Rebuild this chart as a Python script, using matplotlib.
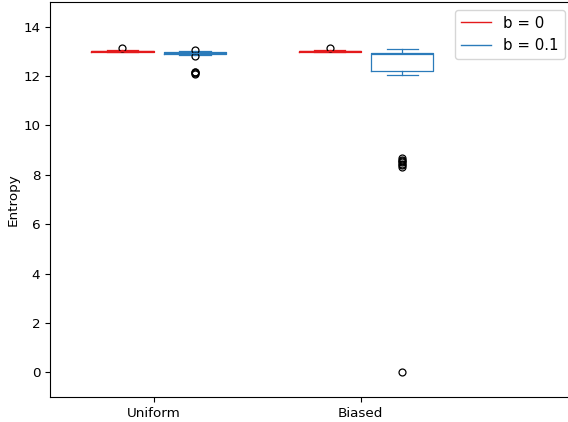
import matplotlib
matplotlib.use("Agg")
import matplotlib.pyplot as plt
from matplotlib.lines import Line2D

# categories and per-group box statistics
labels = ["Uniform", "Biased"]

# b = 0
b0_med = [13.00, 13.00]
b0_q1 = [12.99, 12.99]
b0_q3 = [13.02, 13.02]
b0_lo = [12.96, 12.96]
b0_hi = [13.05, 13.05]
b0_fliers = [[13.12], [13.12]]

# b = 0.1
b1_med = [12.93, 12.90]
b1_q1 = [12.89, 12.20]
b1_q3 = [12.97, 12.93]
b1_lo = [12.87, 12.05]
b1_hi = [13.00, 13.10]
b1_fliers = [[13.06, 12.83, 12.18, 12.15, 12.12, 12.10],
             [8.69, 8.62, 8.56, 8.50, 8.45, 8.40, 8.33, 0.0]]

red = "#e41a1c"
blue = "#2b7bba"


def make_stats(med, q1, q3, lo, hi, fliers):
    stats = []
    for i in range(len(med)):
        stats.append({"med": med[i], "q1": q1[i], "q3": q3[i],
                      "whislo": lo[i], "whishi": hi[i], "fliers": fliers[i]})
    return stats


fig = plt.figure(figsize=(5.68, 4.22), dpi=100)
ax = fig.add_axes([50 / 568, 25 / 422, 522 / 568, 395 / 422])

pos = list(range(len(labels)))

for stats, off, col in [(make_stats(b0_med, b0_q1, b0_q3, b0_lo, b0_hi, b0_fliers), -0.15, red),
                        (make_stats(b1_med, b1_q1, b1_q3, b1_lo, b1_hi, b1_fliers), 0.2, blue)]:
    ax.bxp(stats, positions=[p + off for p in pos], widths=0.3,
           boxprops=dict(color=col, linewidth=0.9),
           whiskerprops=dict(color=col, linewidth=0.9),
           capprops=dict(color=col, linewidth=0.9),
           medianprops=dict(color=col, linewidth=0.9),
           flierprops=dict(marker="o", markersize=5, markerfacecolor="none",
                           markeredgecolor="black", markeredgewidth=0.9))

ax.set_xticks(pos)
ax.set_xticklabels(labels)
ax.set_xlim(-0.5, 2.02)
ax.set_ylim(-1, 15)
ax.set_yticks(range(0, 15, 2))
ax.tick_params(axis="both", labelsize=9.7)
ax.set_ylabel("Entropy", fontsize=9.7, labelpad=2.5)

handles = [Line2D([], [], color=red, linewidth=1),
           Line2D([], [], color=blue, linewidth=1)]
ax.legend(handles, ["b = 0", "b = 0.1"], loc="upper right", fontsize=10.8)

fig.savefig("out.png", dpi=100)
